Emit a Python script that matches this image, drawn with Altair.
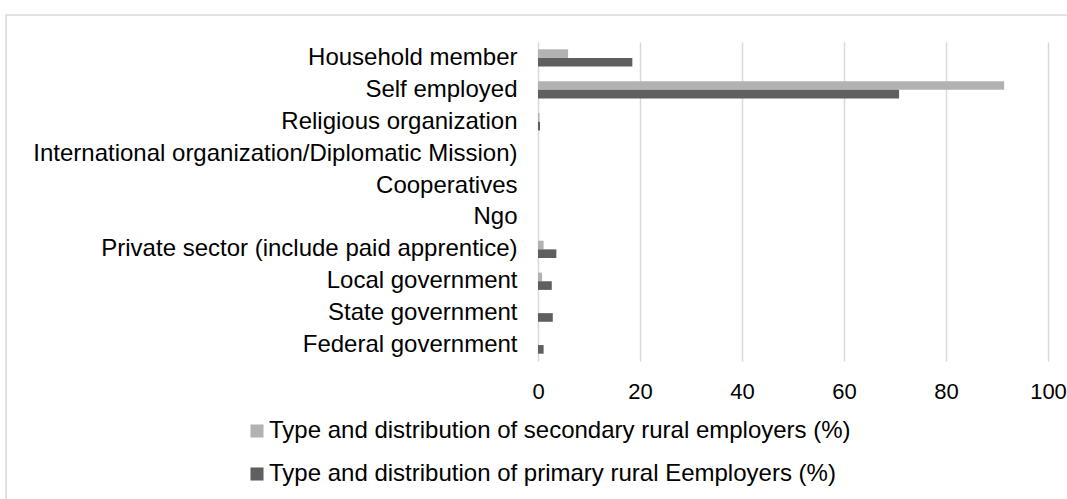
import altair as alt
import pandas as pd

categories = [
    "Household member",
    "Self employed",
    "Religious organization",
    "International organization/Diplomatic Mission)",
    "Cooperatives",
    "Ngo",
    "Private sector (include paid apprentice)",
    "Local government",
    "State government",
    "Federal government",
]
series_names = [
    "Type and distribution of secondary rural employers (%)",
    "Type and distribution of primary rural Eemployers (%)",
]
secondary = [5.9, 91.4, 0.3, 0, 0, 0, 1.1, 0.8, 0, 0]
primary = [18.5, 70.8, 0.4, 0, 0, 0, 3.6, 2.7, 2.9, 1.1]
x_ticks = [0, 20, 40, 60, 80, 100]

rows = []
for c, s, p in zip(categories, secondary, primary):
    rows.append({"category": c, "series": series_names[0], "value": s})
    rows.append({"category": c, "series": series_names[1], "value": p})
df = pd.DataFrame(rows)

FONT = "Liberation Sans"
W, H = 510, 319

bars = alt.Chart(df).mark_bar().encode(
    y=alt.Y(
        "category:N",
        sort=categories,
        title=None,
        scale=alt.Scale(paddingInner=0.458, paddingOuter=0.229),
        axis=alt.Axis(
            domain=False, ticks=False, labelFontSize=24, labelFont=FONT,
            labelColor="#000000", labelPadding=21, labelLimit=700, grid=False,
        ),
    ),
    yOffset=alt.YOffset("series:N", sort=series_names,
                        scale=alt.Scale(domain=series_names, paddingInner=0, paddingOuter=0)),
    x=alt.X(
        "value:Q",
        title=None,
        scale=alt.Scale(domain=[0, 100], nice=False),
        axis=alt.Axis(
            values=x_ticks, domain=False, ticks=False, grid=True,
            gridColor="#d9d9d9", gridWidth=1.5, labelFontSize=22,
            labelFont=FONT, labelColor="#000000", labelPadding=20,
            labelFlush=False,
        ),
    ),
    color=alt.Color(
        "series:N",
        scale=alt.Scale(domain=series_names, range=["#b2b2b2", "#5f5f5f"]),
        legend=alt.Legend(
            title=None, orient="none", legendX=-293, legendY=377,
            direction="vertical", symbolType="square", symbolSize=170,
            symbolStrokeWidth=0, labelFontSize=24, labelFont=FONT,
            labelColor="#000000", labelOffset=0, rowPadding=19,
            labelLimit=800, padding=0,
        ),
    ),
)

border = alt.Chart(pd.DataFrame({"a": [0]})).mark_rect(
    fill=None, stroke="#d9d9d9", strokeWidth=1.5, clip=False
).encode(
    x=alt.value(-532), x2=alt.value(600),
    y=alt.value(-27), y2=alt.value(520),
)

chart = alt.layer(border, bars).properties(
    width=W, height=H,
    padding={"left": 538, "top": 42, "right": 19, "bottom": 138},
    autosize=alt.AutoSizeParams(type="none"),
    background="white",
).configure_view(stroke=None, strokeWidth=0)

chart.save("out.html", embed_options={"renderer": "svg", "actions": False})
